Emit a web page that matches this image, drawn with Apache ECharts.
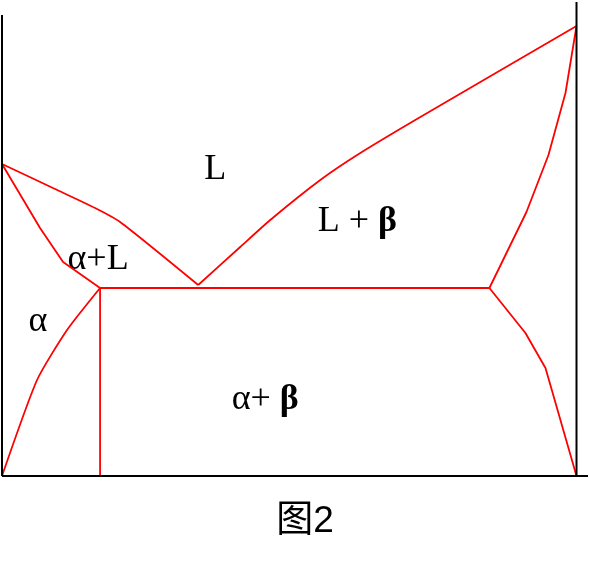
<!DOCTYPE html>
<html><head><meta charset="utf-8">
<script src="https://cdn.jsdelivr.net/npm/echarts@6/dist/echarts.min.js"></script>
<style>html,body{margin:0;padding:0;background:#fff}#c{width:590px;height:566px}</style>
</head><body><div id="c"></div>
<script>
// Phase diagram boundaries: [composition %, temperature units]
const liquidusAlpha = [[0,312],[9.23,287],[16.2,268],[20.56,254],[34.15,191]];
const liquidusBeta = [[34.15,191],[41.46,229],[46.69,256],[55.4,296],[62.37,323],[72.82,359],[100,450]];
const solidusAlpha = [[0,312],[6.62,248],[10.63,214],[17.07,188]];
const solvusAlpha = [[17.07,188],[11.32,146],[6.1,96],[0,0]];
const eutecticLine = [[17.07,188],[84.84,188]];
const verticalLine = [[17.07,188],[17.07,0]];
const solidusBeta = [[100,450],[98.08,383],[95.12,321],[91.29,264],[84.84,188]];
const solvusBeta = [[84.84,188],[91.11,143],[94.6,108],[100,0]];
const axisLeft = [[0,0],[0,461]];
const axisRight = [[100,0],[100,474]];
const axisBottom = [[0,0],[102,0]];
const regionLabels = [
  {name:'L', value:[37.11,306], text:'{n|L}'},
  {name:'L+β', value:[61.85,254], text:'{n|L + }{b|β}'},
  {name:'α+L', value:[16.72,216], text:'{n|α+L}'},
  {name:'α', value:[6.27,154], text:'{n|α}'},
  {name:'α+β', value:[45.82,76], text:'{n|α+ }{b|β}'}
];
const captionText = '图2';

const chart = echarts.init(document.getElementById('c'));
const red = (data, smooth) => ({type:'line', data, showSymbol:false, symbol:'none', clip:false, silent:true,
  smooth: smooth || false, lineStyle:{color:'#ff0000', width:1.8}});
const blk = (data) => ({type:'line', data, showSymbol:false, symbol:'none', clip:false, silent:true,
  lineStyle:{color:'#000000', width:2}});
const txt = {fontFamily:'Liberation Serif', fontSize:36, color:'#000', textBorderWidth:0, textShadowBlur:0};
chart.setOption({
  animation:false,
  grid:{left:2,right:2,top:2,bottom:90},
  xAxis:{type:'value',min:0,max:102,show:false},
  yAxis:{type:'value',min:0,max:474,show:false},
  series:[
    red(liquidusAlpha,0.2), red(liquidusBeta,0.2), red(solidusAlpha), red(solvusAlpha,0.2),
    red(eutecticLine), red(verticalLine), red(solidusBeta), red(solvusBeta),
    blk(axisLeft), blk(axisRight), blk(axisBottom),
    {type:'scatter', symbolSize:0, silent:true, clip:false, itemStyle:{color:'#000', opacity:1},
     data: regionLabels.map(d=>({value:d.value, label:{formatter:d.text}})),
     label:{show:true, position:'inside', color:'#000', textBorderWidth:0, opacity:1,
       rich:{n:Object.assign({}, txt), b:Object.assign({}, txt, {fontWeight:'bold'})}}}
  ],
  graphic:[{type:'text', x:305, y:522, style:{text:captionText, fontSize:37,
    fontFamily:'Liberation Sans, Noto Sans CJK SC', fill:'#000', textAlign:'center', textVerticalAlign:'middle'}}]
});
</script></body></html>
